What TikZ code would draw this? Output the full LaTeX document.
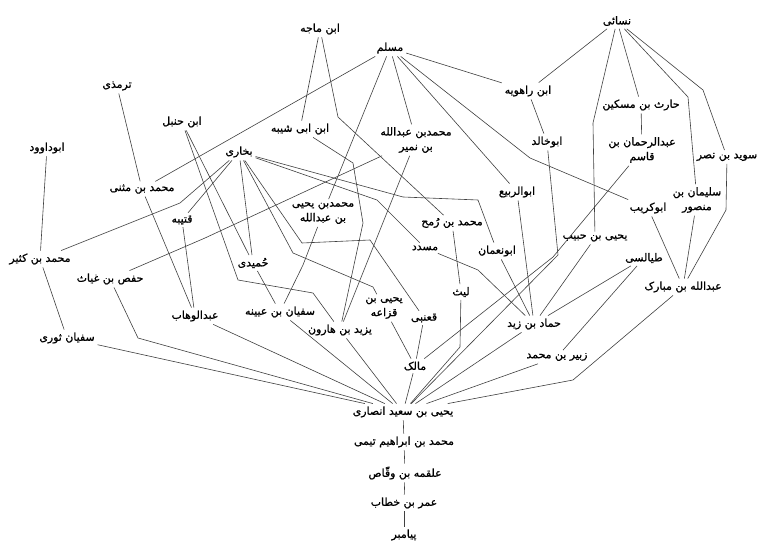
\documentclass[tikz,border=0pt]{standalone}
\usepackage{fontspec}
\newfontfamily\arabicfont[Script=Arabic,FakeBold=1]{DejaVu Sans}
\TeXXeTstate=1
\newcommand{\ar}[1]{\beginR #1\endR}
\begin{document}
\begin{tikzpicture}[x=0.75pt,y=-0.75pt,
  lbl/.style={font=\arabicfont\fontsize{8.2}{11}\selectfont, inner sep=2pt, align=center},
  ln/.style={draw=black!75, line width=0.45pt}]
\useasboundingbox[fill=white] (0,0) rectangle (758,542);
% nodes
\node[lbl] (nasai) at (617,21) {\ar{نسائی}};
\node[lbl] (ibnmaja) at (320,29) {\ar{ابن ماجه}};
\node[lbl] (muslim) at (390,48) {\ar{مسلم}};
\node[lbl] (tirmidhi) at (117,86) {\ar{ترمذی}};
\node[lbl] (rahwayh) at (528,91) {\ar{ابن راهویه}};
\node[lbl] (harith) at (641,105) {\ar{حارث بن مسکین}};
\node[lbl] (hanbal) at (182,122) {\ar{ابن حنبل}};
\node[lbl] (abishayba) at (300,129) {\ar{ابن ابی شیبه}};
\node[lbl] (numayr) at (416,140) {\ar{محمدبن عبدالله}\\\ar{بن نمیر}};
\node[lbl] (abukhalid) at (547,142) {\ar{ابوخالد}};
\node[lbl] (qasim) at (642,150) {\ar{عبدالرحمان بن}\\\ar{قاسم}};
\node[lbl] (abudawud) at (47,148) {\ar{ابوداوود}};
\node[lbl] (bukhari) at (239,152) {\ar{بخاری}};
\node[lbl] (suwayd) at (727,157) {\ar{سوید بن نصر}};
\node[lbl] (muthanna) at (142,189) {\ar{محمد بن مثنی}};
\node[lbl] (rabi) at (517,192) {\ar{ابوالربیع}};
\node[lbl] (sulayman) at (697,200) {\ar{سلیمان بن}\\\ar{منصور}};
\node[lbl] (abukurayb) at (648,208) {\ar{ابوکریب}};
\node[lbl] (myahya) at (323,213) {\ar{محمدبن یحیی}\\\ar{بن عبدالله}};
\node[lbl] (qutayba) at (182,220) {\ar{قتیبه}};
\node[lbl] (rumh) at (452,223) {\ar{محمد بن رُمح}};
\node[lbl] (musaddad) at (425,248) {\ar{مسدد}};
\node[lbl] (abunuman) at (497,251) {\ar{ابونعمان}};
\node[lbl] (yhabib) at (595,238) {\ar{یحیی بن حبیب}};
\node[lbl] (kathir) at (40,259) {\ar{محمد بن کثیر}};
\node[lbl] (hafs) at (110,279) {\ar{حفص بن غیاث}};
\node[lbl] (tayalisi) at (644,258) {\ar{طیالسی}};
\node[lbl] (humaydi) at (253,263) {\ar{حُمیدی}};
\node[lbl] (mubarak) at (683,287) {\ar{عبدالله بن مبارک}};
\node[lbl] (layth) at (461,292) {\ar{لیث}};
\node[lbl] (qazaa) at (384,308) {\ar{یحیی بن}\\\ar{قزاعه}};
\node[lbl] (qanabi) at (424,318) {\ar{قعنبی}};
\node[lbl] (uyayna) at (280,312) {\ar{سفیان بن عیینه}};
\node[lbl] (hammad) at (534,324) {\ar{حماد بن زید}};
\node[lbl] (wahhab) at (195,316) {\ar{عبدالوهاب}};
\node[lbl] (yazid) at (340,330) {\ar{یزید بن هارون}};
\node[lbl] (thawri) at (67,338) {\ar{سفیان ثوری}};
\node[lbl] (malik) at (415,366) {\ar{مالک}};
\node[lbl] (zubayr) at (557,357) {\ar{زبیر بن محمد}};
\node[lbl] (ansari) at (403,412) {\ar{یحیی بن سعید انصاری}};
\node[lbl] (ibrahim) at (404,442) {\ar{محمد بن ابراهیم تیمی}};
\node[lbl] (alqama) at (405,473) {\ar{علقمه بن وقّاص}};
\node[lbl] (umar) at (404,503) {\ar{عمر بن خطاب}};
\node[lbl] (payambar) at (404,535) {\ar{پیامبر}};
% connectors
\draw[ln] (nasai) -- (rahwayh);
\draw[ln] (nasai) -- (593,123) -- (yhabib);
\draw[ln] (nasai) -- (harith);
\draw[ln] (nasai) -- (688,97) -- (sulayman);
\draw[ln] (nasai) -- (703,90) -- (suwayd);
\draw[ln] (harith) -- (qasim);
\draw[ln] (qasim) -- (553,257) -- (malik);
\draw[ln] (rahwayh) -- (abukhalid);
\draw[ln] (abukhalid) -- (558,255) -- (ansari);
\draw[ln] (muslim) -- (rahwayh);
\draw[ln] (muslim) -- (530,158) -- (abukurayb);
\draw[ln] (muslim) -- (rabi);
\draw[ln] (muslim) -- (numayr);
\draw[ln] (muslim) -- (myahya);
\draw[ln] (muslim) -- (muthanna);
\draw[ln] (ibnmaja) -- (abishayba);
\draw[ln] (ibnmaja) -- (338,117) -- (rumh);
\draw[ln] (tirmidhi) -- (muthanna);
\draw[ln] (abudawud) -- (kathir);
\draw[ln] (kathir) -- (thawri);
\draw[ln] (thawri) -- (ansari);
\draw[ln] (hafs) -- (138,338) -- (ansari);
\draw[ln] (wahhab) -- (ansari);
\draw[ln] (uyayna) -- (ansari);
\draw[ln] (yazid) -- (ansari);
\draw[ln] (malik) -- (ansari);
\draw[ln] (layth) -- (460,347) -- (ansari);
\draw[ln] (hammad) -- (ansari);
\draw[ln] (zubayr) -- (ansari);
\draw[ln] (mubarak) -- (573,380) -- (ansari);
\draw[ln] (rabi) -- (hammad);
\draw[ln] (abunuman) -- (hammad);
\draw[ln] (musaddad) -- (478,270) -- (hammad);
\draw[ln] (yhabib) -- (hammad);
\draw[ln] (tayalisi) -- (hammad);
\draw[ln] (tayalisi) -- (zubayr);
\draw[ln] (abukurayb) -- (mubarak);
\draw[ln] (sulayman) -- (mubarak);
\draw[ln] (suwayd) -- (726,210) -- (mubarak);
\draw[ln] (rumh) -- (layth);
\draw[ln] (qanabi) -- (malik);
\draw[ln] (qazaa) -- (malik);
\draw[ln] (qutayba) -- (wahhab);
\draw[ln] (muthanna) -- (wahhab);
\draw[ln] (humaydi) -- (uyayna);
\draw[ln] (myahya) -- (303,265) -- (uyayna);
\draw[ln] (abishayba) -- (353,163) -- (363,223) -- (yazid);
\draw[ln] (numayr) -- (yazid);
\draw[ln] (numayr) -- (205,238) -- (hafs);
\draw[ln] (hanbal) -- (humaydi);
\draw[ln] (hanbal) -- (238,280) -- (313,293) -- (yazid);
\draw[ln] (bukhari) -- (180,203) -- (kathir);
\draw[ln] (bukhari) -- (qutayba);
\draw[ln] (bukhari) -- (humaydi);
\draw[ln] (bukhari) -- (302,243) -- (370,240) -- (qanabi);
\draw[ln] (bukhari) -- (293,253) -- (373,287) -- (qazaa);
\draw[ln] (bukhari) -- (377,200) -- (musaddad);
\draw[ln] (bukhari) -- (403,197) -- (478,200) -- (abunuman);
\draw[ln] (ansari) -- (ibrahim);
\draw[ln] (ibrahim) -- (alqama);
\draw[ln] (alqama) -- (umar);
\draw[ln] (umar) -- (payambar);
\end{tikzpicture}
\end{document}
